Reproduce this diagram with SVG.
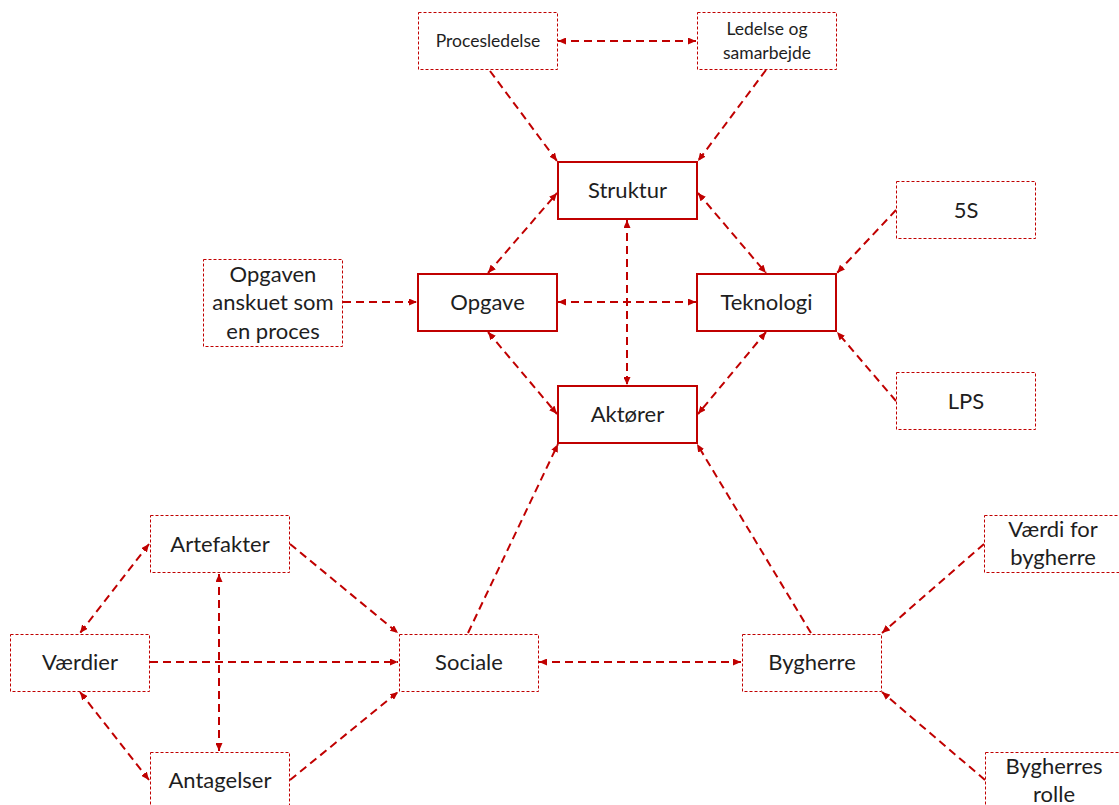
<svg xmlns="http://www.w3.org/2000/svg" width="1119" height="805" viewBox="0 0 1119 805">
  <style>
    .core rect { fill: #ffffff; stroke: #c00000; stroke-width: 2; }
    .aux rect { fill: #ffffff; stroke: #c00000; stroke-width: 1; stroke-dasharray: 3 2; }
    text { font-family: Lato, "Open Sans", "Liberation Sans", sans-serif; font-size: 22px; fill: #1e1e1e; text-anchor: middle; }
    text.small { font-size: 17.5px; }
    #connectors line { stroke: #c00000; stroke-width: 2; stroke-dasharray: 8 5; fill: none; }
    .both { marker-start: url(#head); marker-end: url(#head); }
    .one { marker-end: url(#head); }
  </style>
  <defs>
    <marker id="head" markerUnits="userSpaceOnUse" markerWidth="8" markerHeight="7" refX="8" refY="3.5" orient="auto-start-reverse">
      <path d="M0,0 L8,3.5 L0,7 z" fill="#c00000"/>
    </marker>
  </defs>
  <rect width="1119" height="805" fill="#ffffff"/>

  <!-- connectors -->
  <g id="connectors">
    <line class="both" x1="558" y1="41" x2="696" y2="41"/>
    <line class="one" x1="490" y1="71" x2="557" y2="161"/>
    <line class="one" x1="766" y1="70" x2="698" y2="161"/>
    <line class="both" x1="488" y1="273" x2="557" y2="193"/>
    <line class="both" x1="698" y1="193" x2="766" y2="273"/>
    <line class="both" x1="627" y1="220" x2="627" y2="385"/>
    <line class="both" x1="558" y1="302" x2="696" y2="302"/>
    <line class="both" x1="488" y1="332" x2="557" y2="414"/>
    <line class="both" x1="766" y1="332" x2="698" y2="414"/>
    <line class="one" x1="343" y1="302" x2="417" y2="302"/>
    <line class="one" x1="896" y1="210" x2="837" y2="273"/>
    <line class="one" x1="896" y1="401" x2="837" y2="332"/>
    <line class="one" x1="468" y1="633" x2="558" y2="444"/>
    <line class="one" x1="811" y1="633" x2="697" y2="444"/>
    <line class="both" x1="149" y1="544" x2="80" y2="633"/>
    <line class="both" x1="219" y1="574" x2="219" y2="751"/>
    <line class="one" x1="290" y1="544" x2="398" y2="633"/>
    <line class="one" x1="150" y1="662" x2="398" y2="662"/>
    <line class="both" x1="80" y1="692" x2="149" y2="780"/>
    <line class="one" x1="290" y1="780" x2="398" y2="692"/>
    <line class="both" x1="539" y1="662" x2="741" y2="662"/>
    <line class="one" x1="984" y1="544" x2="882" y2="633"/>
    <line class="one" x1="985" y1="780" x2="882" y2="692"/>
  </g>

  <!-- core nodes -->
  <g id="struktur" class="core">
    <rect x="558" y="162" width="139" height="57"/>
    <text x="627.5" y="198">Struktur</text>
  </g>
  <g id="opgave" class="core">
    <rect x="418" y="274" width="139" height="57"/>
    <text x="487.5" y="310">Opgave</text>
  </g>
  <g id="teknologi" class="core">
    <rect x="697" y="274" width="139" height="57"/>
    <text x="766.5" y="310">Teknologi</text>
  </g>
  <g id="aktorer" class="core">
    <rect x="558" y="386" width="139" height="57"/>
    <text x="627.5" y="422">Aktører</text>
  </g>

  <!-- surrounding nodes -->
  <g id="procesledelse" class="aux">
    <rect x="418.5" y="12.5" width="139" height="57"/>
    <text class="small" x="488" y="47">Procesledelse</text>
  </g>
  <g id="ledelse" class="aux">
    <rect x="697.5" y="12.5" width="139" height="57"/>
    <text class="small" x="767" y="35">Ledelse og</text>
    <text class="small" x="767" y="59">samarbejde</text>
  </g>
  <g id="opgaven-proces" class="aux">
    <rect x="203.5" y="259.5" width="139" height="87"/>
    <text x="273" y="282">Opgaven</text>
    <text x="273" y="310">anskuet som</text>
    <text x="273" y="339">en proces</text>
  </g>
  <g id="fem-s" class="aux">
    <rect x="896.5" y="181.5" width="139" height="57"/>
    <text x="966" y="218">5S</text>
  </g>
  <g id="lps" class="aux">
    <rect x="896.5" y="372.5" width="139" height="57"/>
    <text x="966" y="409">LPS</text>
  </g>
  <g id="artefakter" class="aux">
    <rect x="150.5" y="515.5" width="139" height="57"/>
    <text x="220" y="552">Artefakter</text>
  </g>
  <g id="vaerdier" class="aux">
    <rect x="10.5" y="634.5" width="139" height="57"/>
    <text x="80" y="670">Værdier</text>
  </g>
  <g id="sociale" class="aux">
    <rect x="399.5" y="634.5" width="139" height="57"/>
    <text x="469" y="670">Sociale</text>
  </g>
  <g id="antagelser" class="aux">
    <rect x="150.5" y="752.5" width="139" height="57"/>
    <text x="220" y="788">Antagelser</text>
  </g>
  <g id="bygherre" class="aux">
    <rect x="742.5" y="634.5" width="139" height="57"/>
    <text x="812" y="670">Bygherre</text>
  </g>
  <g id="vaerdi-bygherre" class="aux">
    <rect x="984.5" y="515.5" width="139" height="57"/>
    <text x="1053" y="537">Værdi for</text>
    <text x="1053" y="565">bygherre</text>
  </g>
  <g id="bygherres-rolle" class="aux">
    <rect x="985.5" y="752.5" width="139" height="57"/>
    <text x="1054" y="774">Bygherres</text>
    <text x="1054" y="802">rolle</text>
  </g>
</svg>
